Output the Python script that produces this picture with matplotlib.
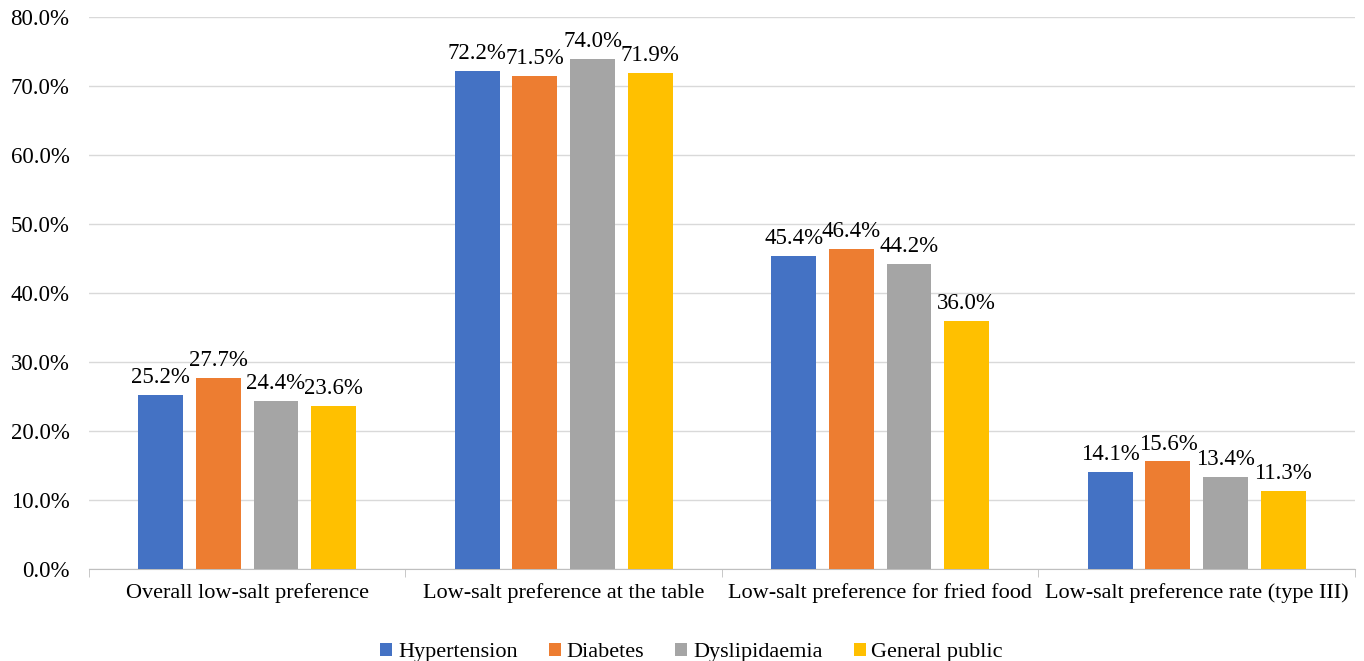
import numpy as np
import matplotlib
matplotlib.use('Agg')
import matplotlib.pyplot as plt

categories = ['Overall low-salt preference', 'Low-salt preference at the table',
              'Low-salt preference for fried food', 'Low-salt preference rate (type III)']
series = ['Hypertension', 'Diabetes', 'Dyslipidaemia', 'General public']
hypertension = [25.2, 72.2, 45.4, 14.1]
diabetes = [27.7, 71.5, 46.4, 15.6]
dyslipidaemia = [24.4, 74.0, 44.2, 13.4]
general_public = [23.6, 71.9, 36.0, 11.3]
values = [hypertension, diabetes, dyslipidaemia, general_public]
colors = ['#4472c4', '#ed7d31', '#a5a5a5', '#ffc000']

plt.rcParams['font.family'] = ['Liberation Serif', 'DejaVu Serif']
FS = 16

fig = plt.figure(figsize=(13.64, 6.61), dpi=100)
ax = fig.add_axes([0.0652, 0.139, 0.9282, 0.835])

x = np.arange(len(categories))
width = 0.142
step = 0.182
for i, (name, vals, c) in enumerate(zip(series, values, colors)):
    pos = x + (i - 1.5) * step
    bars = ax.bar(pos, vals, width, color=c, label=name, zorder=3)
    for b, v in zip(bars, vals):
        ax.text(b.get_x() + b.get_width() / 2, v + 1.0, '%.1f%%' % v,
                ha='center', va='bottom', fontsize=FS + 0.5, color='black')

ax.set_xlim(-0.5, len(categories) - 0.5)
ax.set_ylim(0, 80)
ax.set_yticks(np.arange(0, 81, 10))
ax.set_yticklabels(['%.1f%%' % t for t in np.arange(0, 81, 10)], fontsize=FS + 0.5)
ax.yaxis.grid(True, color='#d9d9d9', linewidth=1, zorder=0)
ax.tick_params(axis='y', length=0, pad=14)

ax.set_xticks(x)
ax.set_xticklabels(categories, fontsize=FS)
ax.set_xticks(np.arange(-0.5, len(categories)), minor=True)
ax.tick_params(axis='x', which='major', length=0, pad=10)
ax.tick_params(axis='x', which='minor', length=6, color='#bfbfbf', direction='out')

for s in ['top', 'right', 'left']:
    ax.spines[s].set_visible(False)
ax.spines['bottom'].set_color('#bfbfbf')

ax.legend(loc='lower center', bbox_to_anchor=(0.476, -0.205), ncol=4, frameon=False,
          fontsize=FS, handlelength=0.55, handleheight=0.55, handletextpad=0.25,
          columnspacing=1.4)

fig.savefig('out.png', dpi=100)
